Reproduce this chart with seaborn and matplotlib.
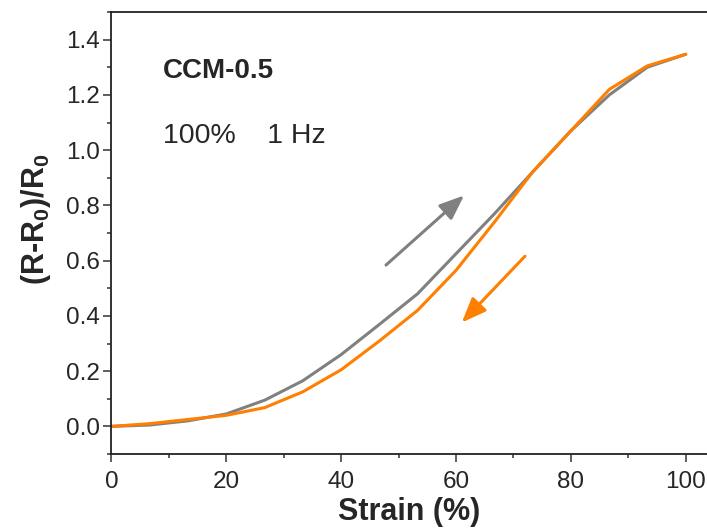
import matplotlib
matplotlib.use("Agg")
import matplotlib.pyplot as plt
import pandas as pd
import seaborn as sns
from matplotlib.ticker import MultipleLocator

# strain steps (%) and relative resistance change
strain = [0, 6.7, 13.3, 20, 26.7, 33.3, 40, 46.7, 53.3, 60, 66.7, 73.3, 80, 86.7, 93.3, 100]
loading = [0, 0.005, 0.02, 0.045, 0.095, 0.165, 0.26, 0.37, 0.48, 0.625, 0.77, 0.92, 1.07, 1.2, 1.30, 1.347]
unloading = [0, 0.01, 0.025, 0.04, 0.068, 0.125, 0.205, 0.31, 0.42, 0.565, 0.74, 0.92, 1.07, 1.22, 1.305, 1.347]

sample = "CCM-0.5"
condition = "100%    1 Hz"

sns.set_style("ticks")
plt.rcParams["font.family"] = ["Liberation Sans", "DejaVu Sans"]
plt.rcParams["mathtext.fontset"] = "custom"
plt.rcParams["mathtext.rm"] = "Liberation Sans:bold"
plt.rcParams["mathtext.default"] = "rm"

df = pd.concat([
    pd.DataFrame({"strain": strain, "dr": loading, "dir": "load"}),
    pd.DataFrame({"strain": strain[::-1], "dr": unloading[::-1], "dir": "unload"}),
])

fig = plt.figure(figsize=(7.07, 5.31), dpi=100)
ax = fig.add_axes([0.1577, 0.145, 0.8423, 0.8324])

sns.lineplot(data=df, x="strain", y="dr", hue="dir", sort=False, estimator=None,
             palette={"load": "#808080", "unload": "#ff7f00"}, linewidth=2.2,
             legend=False, ax=ax)

# direction arrows
head = "-|>,head_length=1.5,head_width=0.6"
ax.annotate("", xy=(61.4, 0.836), xytext=(47.8, 0.584),
            arrowprops=dict(arrowstyle=head, color="#808080", lw=2.2, shrinkA=0, shrinkB=0))
ax.annotate("", xy=(61.0, 0.376), xytext=(72.0, 0.616),
            arrowprops=dict(arrowstyle=head, color="#ff7f00", lw=2.2, shrinkA=0, shrinkB=0))

ax.text(9.0, 1.286, sample, fontsize=20, fontweight="bold", va="center", ha="left")
ax.text(9.0, 1.052, condition, fontsize=20.5, va="center", ha="left")

ax.set_xlim(0, 103.7)
ax.set_ylim(-0.1, 1.5)
ax.xaxis.set_major_locator(MultipleLocator(20))
ax.xaxis.set_minor_locator(MultipleLocator(10))
ax.yaxis.set_major_locator(MultipleLocator(0.2))
ax.yaxis.set_minor_locator(MultipleLocator(0.1))
ax.yaxis.set_major_formatter(plt.FormatStrFormatter("%.1f"))
ax.tick_params(which="major", length=5.5, width=1.1, labelsize=17.5, color="#333333")
ax.tick_params(which="minor", length=3, width=1.1, color="#333333")
ax.tick_params(axis="x", pad=7)
ax.tick_params(axis="y", pad=3)

ax.set_xlabel("Strain (%)", fontsize=22, fontweight="bold", labelpad=2.5)
ax.set_ylabel("(R-R$_0$)/R$_0$", fontsize=22, fontweight="bold")
ax.yaxis.set_label_coords(-0.098, 0.53)

for side in ["left", "bottom", "top"]:
    ax.spines[side].set_linewidth(1.3)
    ax.spines[side].set_color("#222222")
ax.spines["right"].set_visible(False)

fig.savefig("out.png", dpi=100)
